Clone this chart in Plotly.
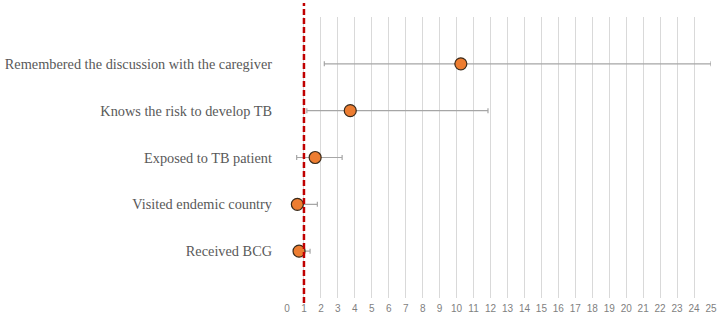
import plotly.graph_objects as go

categories = ["Received BCG", "Visited endemic country", "Exposed to TB patient",
              "Knows the risk to develop TB", "Remembered the discussion with the caregiver"]
odds_ratio = [0.71, 0.61, 1.66, 3.73, 10.25]
ci_lower = [0.45, 0.28, 0.57, 1.17, 2.2]
ci_upper = [1.36, 1.79, 3.25, 11.85, 25.0]
x_ticks = list(range(0, 26))
reference_value = 1

ypos = list(range(len(categories)))
err_plus = [u - o for u, o in zip(ci_upper, odds_ratio)]
err_minus = [o - l for o, l in zip(odds_ratio, ci_lower)]

fig = go.Figure()
fig.add_trace(go.Scatter(
    x=odds_ratio, y=ypos, mode="markers",
    marker=dict(size=12, color="#ED7D31", line=dict(color="#3a2a1a", width=1.2)),
    error_x=dict(type="data", symmetric=False, array=err_plus, arrayminus=err_minus,
                 color="#A6A6A6", thickness=1.2, width=2.5),
    showlegend=False, cliponaxis=False,
))

fig.add_shape(type="line", xref="x", yref="paper", x0=reference_value, x1=reference_value,
              y0=-0.018, y1=1.05, line=dict(color="#C00000", width=2.5, dash="6px,3px"))

fig.update_layout(
    width=717, height=315,
    margin=dict(l=287, r=6, t=17, b=17),
    paper_bgcolor="white", plot_bgcolor="white",
    xaxis=dict(range=[0, 25], tickvals=x_ticks, ticktext=[str(v) for v in x_ticks],
               showgrid=True, gridcolor="#D9D9D9", gridwidth=1, zeroline=False,
               showline=False, ticks="", automargin=False, ticklabelstandoff=3,
               tickfont=dict(family="Liberation Sans", size=10, color="#7F7F7F")),
    yaxis=dict(range=[-1, 5], tickvals=ypos, ticktext=categories,
               showgrid=False, zeroline=False, showline=False, ticks="",
               ticklabelstandoff=14, automargin=False,
               tickfont=dict(family="Liberation Serif", size=14.3, color="#595959")),
)
fig.write_html("out.html", config={"displayModeBar": False},
               post_script="document.body.style.margin='0';")
